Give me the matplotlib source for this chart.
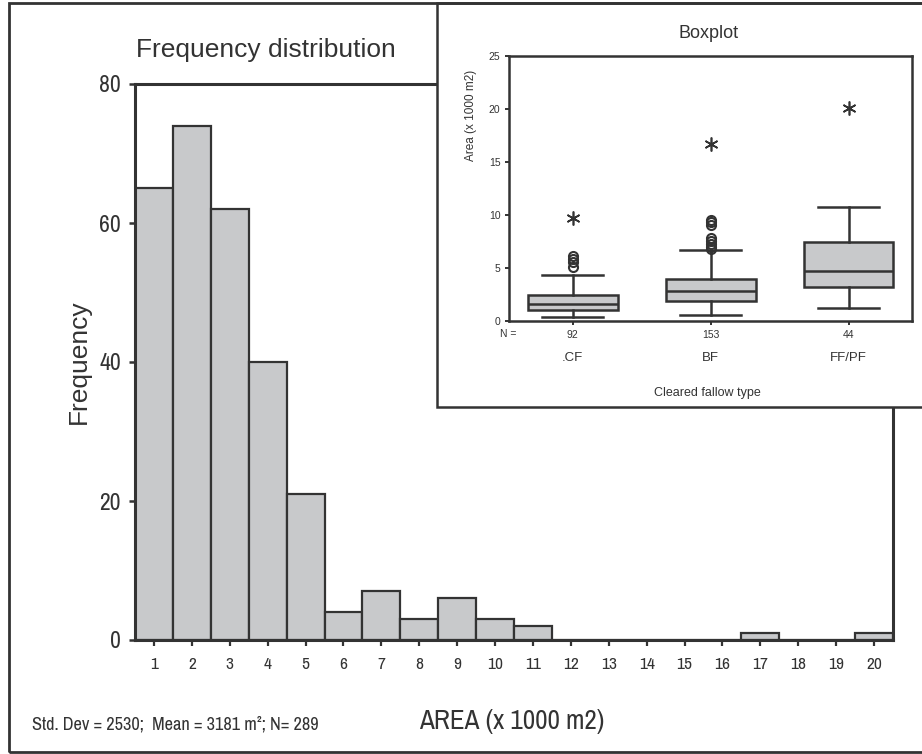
import numpy as np
import matplotlib
matplotlib.use("Agg")
import matplotlib.pyplot as plt
from matplotlib.patches import Rectangle
from matplotlib import font_manager

# histogram data (bins of 1000 m2)
bin_centers = list(range(1, 21))
counts = [65, 74, 62, 40, 21, 4, 7, 3, 6, 3, 2, 0, 0, 0, 0, 0, 1, 0, 0, 1]

# boxplot data (x 1000 m2)
groups = [".CF", "BF", "FF/PF"]
group_n = [92, 153, 44]
whislo = [0.35, 0.55, 1.2]
q1 = [1.0, 1.85, 3.15]
medians = [1.6, 2.85, 4.7]
q3 = [2.4, 3.9, 7.4]
whishi = [4.35, 6.7, 10.75]
outliers = [[5.1, 5.5, 5.8, 6.1],
            [6.8, 7.0, 7.2, 7.5, 7.8, 9.0, 9.3, 9.5],
            []]
extremes = [[9.7], [16.7], [20.1]]

W, H = 922, 754
DARK = "#333333"
GREY = "#c8c9cb"
ARIAL = ["Liberation Sans", "DejaVu Sans"]

# find a narrow face if one is installed
narrow_file = None
for f in font_manager.fontManager.ttflist:
	n = f.name.lower()
	if ("narrow" in n or "condensed" in n) and f.style == "normal" and f.weight in (400, "normal"):
		narrow_file = f.fname
		break

def narrow(size):
	if narrow_file:
		return font_manager.FontProperties(fname=narrow_file, size=size)
	return font_manager.FontProperties(family="DejaVu Sans", stretch="condensed", size=size)

def fx(px):
	return px / W

def fy(py):
	return 1 - py / H

fig = plt.figure(figsize=(W / 100, H / 100), dpi=100)

# main histogram
ax = fig.add_axes([fx(135), fy(640), (893 - 135) / W, (640 - 84) / H])
ax.bar(bin_centers, counts, width=1.0, color=GREY, edgecolor=DARK, linewidth=1.6, zorder=2)
ax.set_xlim(0.5, 20.5)
ax.set_ylim(0, 80)
ax.set_yticks([0, 20, 40, 60, 80])
ax.set_xticks(bin_centers)
for s in ax.spines.values():
	s.set_linewidth(2.2)
	s.set_color(DARK)
ax.tick_params(axis="y", direction="out", length=4, width=1.8, pad=6, colors=DARK)
ax.tick_params(axis="x", direction="out", length=4.5, width=1.6, pad=8, colors=DARK)
for lab in ax.get_yticklabels():
	lab.set_fontproperties(narrow(17))
for lab in ax.get_xticklabels():
	lab.set_fontproperties(narrow(12.5))

fig.text(fx(266), fy(50), "Frequency distribution", ha="center", va="center",
         fontsize=19, color=DARK, family=ARIAL)
fig.text(fx(79), fy(362), "Frequency", ha="center", va="center", rotation=90,
         fontsize=19, color=DARK, family=ARIAL)
fig.text(fx(512), fy(722), "AREA (x 1000 m2)", ha="center", va="center",
         color=DARK, fontproperties=narrow(19.5))
fig.text(fx(32), fy(724), "Std. Dev = 2530;  Mean = 3181 m\u00b2; N= 289", ha="left", va="center",
         color=DARK, fontproperties=narrow(13.2))

# outer border and inset frame
fig.patches.append(Rectangle((fx(9), fy(752)), fx(940) - fx(9), fy(3) - fy(752),
                             transform=fig.transFigure, fill=False, edgecolor=DARK,
                             linewidth=2.0, zorder=5))
fig.patches.append(Rectangle((fx(437), fy(407)), fx(940) - fx(437), fy(3) - fy(407),
                             transform=fig.transFigure, facecolor="white", edgecolor=DARK,
                             linewidth=1.8, zorder=1))

# inset boxplot
bx = fig.add_axes([fx(508.7), fy(320.7), (912 - 508.7) / W, (320.7 - 56) / H], zorder=3)
stats = []
for i in range(len(groups)):
	stats.append(dict(med=medians[i], q1=q1[i], q3=q3[i], whislo=whislo[i],
	                  whishi=whishi[i], fliers=outliers[i], label=groups[i]))
pos = np.arange(1, len(groups) + 1)
line_kw = dict(color=DARK, linewidth=1.8)
bx.bxp(stats, positions=pos, widths=0.65, capwidths=0.44, patch_artist=True,
       boxprops=dict(facecolor=GREY, edgecolor=DARK, linewidth=1.8),
       medianprops=line_kw, whiskerprops=line_kw, capprops=line_kw,
       flierprops=dict(marker="o", markerfacecolor="none", markeredgecolor=DARK,
                       markersize=6.5, markeredgewidth=1.5))
for p, ext in zip(pos, extremes):
	bx.plot([p] * len(ext), ext, linestyle="none", marker=(6, 2, 0), markersize=10,
	        color=DARK, markeredgewidth=1.2)
bx.set_xlim(0.535, 3.46)
bx.set_ylim(0, 25)
bx.set_yticks([0, 5, 10, 15, 20, 25])
bx.set_xticks(pos)
bx.set_xticklabels([str(n) for n in group_n])
for s in bx.spines.values():
	s.set_linewidth(1.8)
	s.set_color(DARK)
bx.tick_params(axis="y", direction="out", length=3, width=1.4, pad=3, colors=DARK, labelsize=7.5)
bx.tick_params(axis="x", direction="out", length=3, width=1.4, pad=4, colors=DARK, labelsize=7.5)
for lab in bx.get_xticklabels() + bx.get_yticklabels():
	lab.set_family(ARIAL)

fig.text(fx(508), fy(334), "N =", ha="center", va="center", fontsize=7.5, color=DARK, family=ARIAL)
for p, g in zip(pos, groups):
	xd = bx.transData.transform((p, 0))[0] / fig.dpi / fig.get_figwidth()
	fig.text(xd, fy(358), g, ha="center", va="center", fontsize=9.5, color=DARK, family=ARIAL)
fig.text(fx(707), fy(393), "Cleared fallow type", ha="center", va="center",
         fontsize=9, color=DARK, family=ARIAL)
fig.text(fx(709), fy(33), "Boxplot", ha="center", va="center", fontsize=13, color=DARK, family=ARIAL)
fig.text(fx(471), fy(115), "Area (x 1000 m2)", ha="center", va="center", rotation=90,
         fontsize=8.5, color=DARK, family=ARIAL)

fig.savefig("out.png", dpi=100)
